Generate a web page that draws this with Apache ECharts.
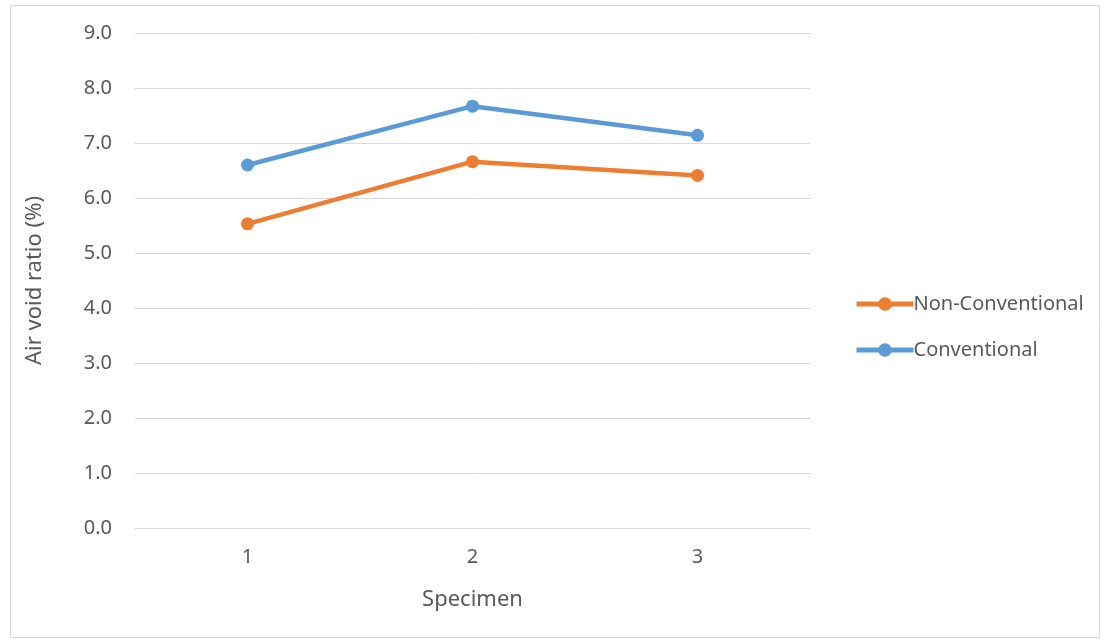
<!DOCTYPE html>
<html>
<head>
<meta charset="utf-8">
<script src="https://cdn.jsdelivr.net/npm/echarts@6/dist/echarts.min.js"></script>
<style>
html,body{margin:0;padding:0;background:#fff;}
#c{width:1107px;height:643px;}
</style>
</head>
<body>
<div id="c"></div>
<script>
const categories = ['1', '2', '3'];
const nonConventional = [5.53, 6.66, 6.41];
const conventional = [6.6, 7.67, 7.14];
const seriesNames = ['Non-Conventional', 'Conventional'];
const xTitle = 'Specimen';
const yTitle = 'Air void ratio (%)';

const font = 'Noto Sans';
const chart = echarts.init(document.getElementById('c'), null, {renderer: 'canvas'});
chart.setOption({
  animation: false,
  backgroundColor: '#fff',
  graphic: [{
    type: 'rect', shape: {x: 10.5, y: 5.5, width: 1089, height: 632},
    style: {fill: 'none', stroke: '#d9d9d9', lineWidth: 1}, silent: true
  }],
  grid: {left: 135, right: 297, top: 33, bottom: 115, containLabel: false},
  legend: {
    orient: 'vertical', left: 849, top: 289,
    itemWidth: 57, itemHeight: 17, itemGap: 26,
    lineStyle: {width: 5},
    textStyle: {fontFamily: font, fontSize: 20, color: '#595959', padding: [0,0,0,-5]},
    data: seriesNames
  },
  xAxis: {
    type: 'category', data: categories, boundaryGap: true,
    name: xTitle, nameLocation: 'middle', nameGap: 61,
    nameTextStyle: {fontFamily: font, fontSize: 22, color: '#595959'},
    axisLine: {show: true, lineStyle: {color: '#d9d9d9', width: 1}},
    axisTick: {show: false},
    axisLabel: {fontFamily: font, fontSize: 20, color: '#595959', margin: 19}
  },
  yAxis: {
    type: 'value', min: 0, max: 9, interval: 1,
    name: yTitle, nameLocation: 'middle', nameGap: 89,
    nameTextStyle: {fontFamily: font, fontSize: 22, color: '#595959'},
    axisLine: {show: false}, axisTick: {show: false},
    axisLabel: {fontFamily: font, fontSize: 20, color: '#595959', margin: 23,
      formatter: v => v.toFixed(1)},
    splitLine: {lineStyle: {color: '#d9d9d9', width: 1}}
  },
  series: [
    {name: seriesNames[0], type: 'line', data: nonConventional,
     symbol: 'circle', symbolSize: 13, color: '#ed7d31',
     lineStyle: {width: 4.5, color: '#ed7d31'}, itemStyle: {color: '#ed7d31'}},
    {name: seriesNames[1], type: 'line', data: conventional,
     symbol: 'circle', symbolSize: 13, color: '#5b9bd5',
     lineStyle: {width: 4.5, color: '#5b9bd5'}, itemStyle: {color: '#5b9bd5'}}
  ]
});
</script>
</body>
</html>
